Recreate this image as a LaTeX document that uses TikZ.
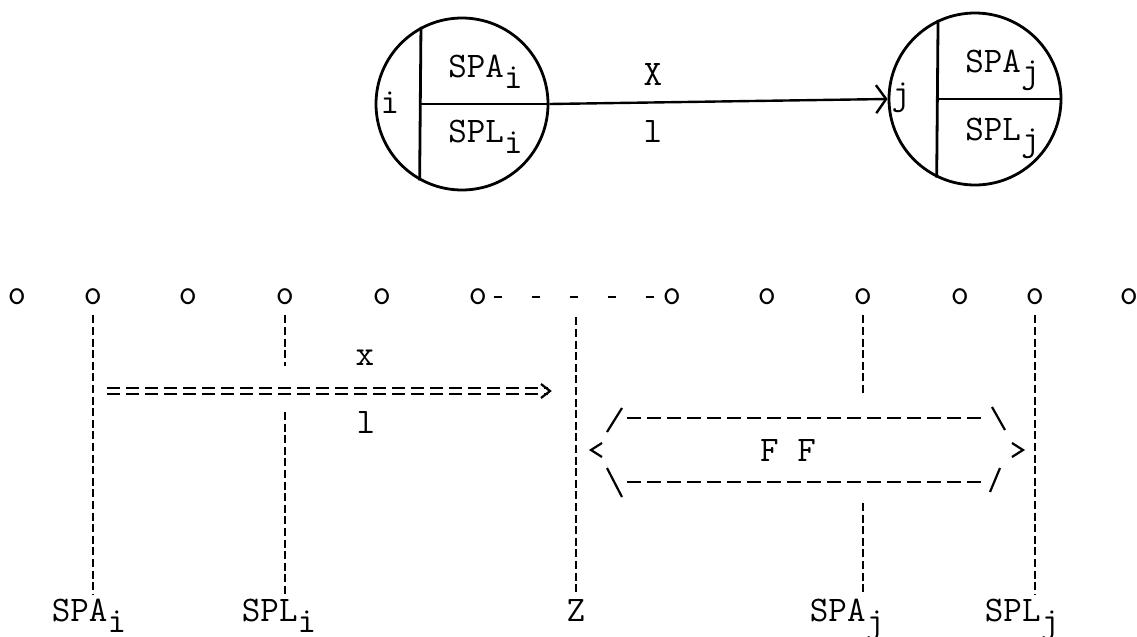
\documentclass[tikz,border=0pt]{standalone}
\usepackage{fontspec}
\usetikzlibrary{arrows.meta, calc}

\newcommand{\lowsub}[1]{\raisebox{-5.5pt}{#1}}

\tikzset{
  tw/.style={font=\ttfamily\fontsize{18}{21}\selectfont\addfontfeature{FakeBold=0.8}, inner sep=0pt},
  ring/.style={draw, circle, line width=1.4pt, minimum size=86pt, inner sep=0pt},
  vdash/.style={line width=1.1pt, dash pattern=on 4pt off 1.8pt, shorten <=5pt, shorten >=2pt},
  hdash/.style={line width=1.1pt, dash pattern=on 7pt off 3pt},
  dbl/.style={double, double distance=2pt, line width=1pt, dash pattern=on 6.5pt off 3pt},
}

\begin{document}
\begin{tikzpicture}[x=0.5pt, y=-0.5pt]
\useasboundingbox (0,0) rectangle (1137,637);

% events i and j
\node[ring] (ci) at (462,104) {};
\node[ring] (cj) at (975,99) {};
\draw[line width=1.4pt] (ci.118.5) -- (ci.241.5);
\draw[line width=1.4pt] (ci.118.5 |- ci.center) -- (ci.east);
\draw[line width=1.4pt] (cj.115.5) -- (cj.244.5);
\draw[line width=1.4pt] (cj.115.5 |- cj.center) -- (cj.east);
\draw[line width=1.2pt, -{Straight Barb[length=5pt,width=14pt]}] (ci.east) -- (cj.west);

\node[tw] (ni) at (390,103) {i};
\node[tw] (nj) at (901,98) {j};
\node[tw, anchor=base west] (spai) at (448,77) {SPA\lowsub{i}};
\node[tw, anchor=base west] (spli) at (448,142) {SPL\lowsub{i}};
\node[tw, anchor=base west] (spaj) at (965,72) {SPA\lowsub{j}};
\node[tw, anchor=base west] (splj) at (965,140) {SPL\lowsub{j}};
\node[tw] (ux) at (653,75) {X};
\node[tw] (ul) at (653,132) {l};

% time scale
\foreach \px [count=\k] in {17,93,188,285,382,478,672,767,863,960,1035,1129}
  \node[tw] (p\k) at (\px,297) {o};
\draw[line width=1.1pt, dash pattern=on 4pt off 15pt, dash phase=16pt] (p6.east) -- (p7.west);

\node[tw, anchor=base] (bspai) at (89,621) {SPA\lowsub{i}};
\node[tw, anchor=base] (bspli) at (279,621) {SPL\lowsub{i}};
\node[tw, anchor=base] (bz) at (576,621) {Z};
\node[tw, anchor=base] (bspaj) at (847,621) {SPA\lowsub{j}};
\node[tw, anchor=base] (bsplj) at (1022,621) {SPL\lowsub{j}};

\coordinate (dbla) at (107,391);
\coordinate (dblb) at (548,391);

\draw[vdash] (p2) -- (p2 |- bspai.north);
\draw[vdash] (p4) -- ([yshift=10.5pt]p4 |- dbla);
\draw[vdash, shorten <=0pt] ([yshift=-10.5pt]p4 |- dbla) -- (p4 |- bspli.north);
\draw[vdash, shorten <=0pt] (bz |- p6.south) ++(0,12) -- (bz.north);
\draw[vdash] (p9) -- (p9 |- 0,400);
\draw[vdash, shorten <=0pt] (p9 |- 0,503) -- (p9 |- bspaj.north);
\draw[vdash] (p11) -- (p11 |- bsplj.north);

% activity x
\draw[dbl] (dbla) -- (dblb);
\draw[line width=1.1pt] ([shift={(-7,-7)}]dblb) -- ([shift={(2,0)}]dblb) -- ([shift={(-7,7)}]dblb);
\node[tw] (lx) at (365,358) {x};
\node[tw] (ll) at (366,422) {l};

% float
\node[tw] (ff) at (788,450) {F F};
\draw[line width=1.1pt] (602,443) -- (591,450) -- (602,457);
\draw[line width=1.1pt] (1012,443) -- (1023,450) -- (1012,457);
\draw[line width=1.1pt] (607,432) -- (622,408);
\draw[line width=1.1pt] (607,468) -- (622,497);
\draw[line width=1.1pt] (992,407) -- (1005,430);
\draw[line width=1.1pt] (1000,468) -- (990,492);
\draw[hdash] (627,418) -- (983,418);
\draw[hdash] (627,482) -- (983,482);
\end{tikzpicture}
\end{document}
